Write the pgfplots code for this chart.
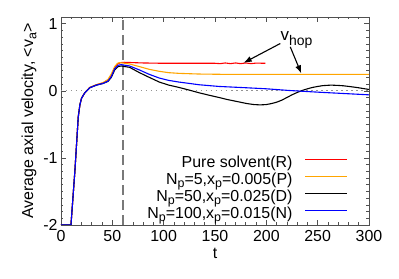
\documentclass[border=0pt]{standalone}
\usepackage{fontspec}
\setmainfont{Liberation Sans}
\usepackage{pgfplots}
\pgfplotsset{compat=1.18}
\usetikzlibrary{arrows.meta}
\definecolor{myorange}{RGB}{255,165,0}
\definecolor{framegray}{RGB}{80,80,80}
\newcommand{\sub}[1]{\raisebox{-0.2em}{\fontsize{12.5}{14}\selectfont #1}}
\begin{document}
\begin{tikzpicture}
\path[use as bounding box] (-61bp,-54bp) rectangle (338bp,225bp);
\begin{axis}[
  at={(0,0)}, anchor=south west,
  scale only axis, width=308bp, height=208bp,
  xmin=0, xmax=300, ymin=-2, ymax=1.1,
  xtick={0,50,100,150,200,250,300},
  xticklabels={0,50,100,150,200,250,300},
  ytick={-2,-1,0,1},
  yticklabels={-2,-1,0,1},
  minor x tick num=4, minor y tick num=9,
  tick align=inside,
  major tick length=5bp, minor tick length=2.5bp,
  axis line style={framegray, line width=0.9bp},
  every tick/.style={framegray, line width=0.6bp},
  font=\fontsize{16}{19}\selectfont,
  xticklabel style={yshift=-2bp},
  xlabel={t}, ylabel={Average axial velocity, <v\sub{a}>},
  xlabel style={yshift=0bp},
  legend cell align=right,
  legend plot pos=right,
  legend style={draw=none, fill=none, inner sep=0pt, at={(rel axis cs:0.932,0)}, anchor=south east, yshift=1bp,
    row sep=0bp, column sep=12bp,
    nodes={inner sep=0pt, text height=11.5bp, text depth=5.5bp},
    font=\fontsize{16}{19}\selectfont},
  legend image code/.code={\draw[#1, line width=1.4bp] (0bp,5bp) -- (42bp,5bp);},
  clip=true,
]
\addplot[gray!85, line width=1.3bp, dash pattern=on 1.5bp off 3.5bp, forget plot] coordinates {(0,0) (300,0)};
\addplot[gray!95!black, line width=2bp, dash pattern=on 10bp off 5bp, forget plot] coordinates {(60,-2) (60,1.1)};
% Red
\addplot[red, line width=1.1bp] coordinates {
(0,-2) (9.7,-2) (13.6,-1.18) (16.8,-0.39) (18.4,-0.21) (20,-0.11) (23.2,-0.03) (28,0.05) (34.5,0.09) (41,0.12) (45.8,0.16) (49,0.23) (52.3,0.34) (55,0.40) (58,0.42) (62,0.425) (70,0.42) (80,0.415) (100,0.41) (130,0.41) (150,0.41) (155,0.405) (160,0.415) (165,0.405) (170,0.415) (175,0.405) (180,0.415) (185,0.405) (190,0.413) (199,0.41)};
\addlegendentry{Pure solvent(R)}
% Orange
\addplot[myorange, line width=1.1bp] coordinates {
(0,-2) (9.7,-2) (13.6,-1.18) (16.8,-0.39) (18.4,-0.21) (20,-0.11) (23.2,-0.03) (28,0.05) (34.5,0.09) (41,0.12) (45.8,0.17) (49,0.25) (52.3,0.36) (55,0.41) (57,0.42) (60,0.415) (66.8,0.40) (76.5,0.36) (86,0.32) (95.8,0.29) (105,0.27) (115,0.26) (134.6,0.25) (160,0.245) (300,0.245)};
\addlegendentry{N\sub{p}=5,x\sub{p}=0.005(P)}
% Black
\addplot[black, line width=1.1bp] coordinates {
(0,-2) (9.7,-2) (13.6,-1.18) (16.8,-0.39) (18.4,-0.21) (20,-0.11) (23.2,-0.03) (28,0.045) (34.5,0.085) (41,0.11) (45.8,0.14) (49,0.2) (52.3,0.31) (55.5,0.36) (58.7,0.37) (66.8,0.35) (76.5,0.27) (86,0.2) (95.8,0.13) (105,0.085) (115,0.05) (125,0.01) (134.6,-0.03) (144,-0.065) (154,-0.1) (162,-0.13) (170,-0.155) (181,-0.19) (188,-0.205) (194,-0.21) (200,-0.205) (205,-0.19) (210,-0.17) (215,-0.14) (220,-0.1) (225,-0.06) (230,-0.025) (234,0) (240,0.03) (245,0.05) (250,0.065) (255,0.077) (263,0.085) (270,0.08) (275,0.075) (283,0.06) (290,0.045) (300,0.02)};
\addlegendentry{N\sub{p}=50,x\sub{p}=0.025(D)}
% Blue
\addplot[blue, line width=1.1bp] coordinates {
(0,-2) (9.7,-2) (13.6,-1.18) (16.8,-0.39) (18.4,-0.21) (20,-0.11) (23.2,-0.03) (28,0.045) (34.5,0.085) (41,0.11) (45.8,0.145) (49,0.21) (52.3,0.33) (55.5,0.38) (58.7,0.39) (66.8,0.37) (76.5,0.31) (86,0.245) (95.8,0.19) (105,0.155) (115,0.13) (125,0.11) (134.6,0.09) (154,0.065) (181,0.045) (200,0.03) (222,0.005) (250,-0.02) (275,-0.04) (300,-0.06)};
\addlegendentry{N\sub{p}=100,x\sub{p}=0.015(N)}
\draw[black, line width=1.1bp, -{Latex[length=8bp,width=6bp]}] (axis cs:213.6,0.705) -- (axis cs:178,0.418);
\draw[black, line width=1.1bp, -{Latex[length=8bp,width=6bp]}] (axis cs:223.3,0.655) -- (axis cs:234,0.26);
\node[font=\fontsize{17}{19}\selectfont, inner sep=0pt] at (axis cs:229.5,0.76) {v\raisebox{-0.3em}{\fontsize{14}{16}\selectfont hop}};
\end{axis}
\end{tikzpicture}
\end{document}
